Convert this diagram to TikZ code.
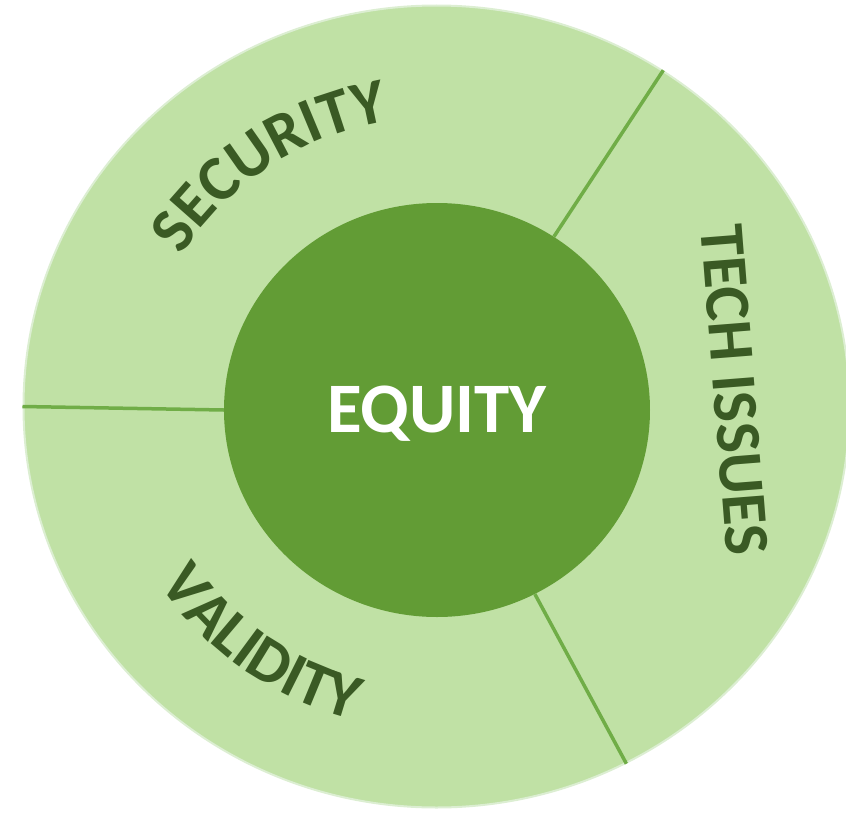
\documentclass[tikz,border=0pt]{standalone}
\usepackage{fontspec}
\setmainfont{Carlito}
\usetikzlibrary{shapes.geometric,decorations.text}
\definecolor{ringgreen}{HTML}{C0E1A5}
\definecolor{ringedge}{HTML}{DCEED2}
\definecolor{coregreen}{HTML}{629C35}
\definecolor{divgreen}{HTML}{70AD47}
\definecolor{labelgreen}{HTML}{3A5A24}
\tikzset{
  divider/.style={draw=divgreen, line width=3.5pt},
  ringlabel/.style={font=\fontsize{64}{64}\selectfont\bfseries, text=labelgreen, inner sep=0pt},
  arclabel/.style={decorate, decoration={text along path, text align=center,
    text color=labelgreen, text={|\fontsize{64}{64}\selectfont\bfseries|#1}}}
}
\begin{document}
\begin{tikzpicture}[x=1pt,y=1pt]
\useasboundingbox (-437,-404) rectangle (409,408);
% outer ring and the core
\node[ellipse, minimum width=826pt, minimum height=802pt, fill=ringgreen, draw=ringedge, line width=2pt] (ring) at (-0.5,1.5) {};
\node[ellipse, minimum width=426pt, minimum height=414pt, inner sep=0pt, fill=coregreen,
  text=white, font=\fontsize{71}{71}\selectfont\bfseries, text height=45pt, text depth=0pt] (core) at (0,-2) {EQUITY};
% dividers between the three parts
\foreach \a in {56,298.7,180.5} \draw[divider] (core.\a) -- (ring.\a);
% labels in the ring
\path[arclabel=SECURITY] (164:300 and 291) arc[start angle=164, end angle=84, x radius=300, y radius=291];
\path[arclabel=VALIDITY] (-166:332 and 322) arc[start angle=-166, end angle=-86, x radius=332, y radius=322];
\node[ringlabel, rotate=-85.5] (tech) at (297.5,18) {TECH ISSUES};
\end{tikzpicture}
\end{document}
